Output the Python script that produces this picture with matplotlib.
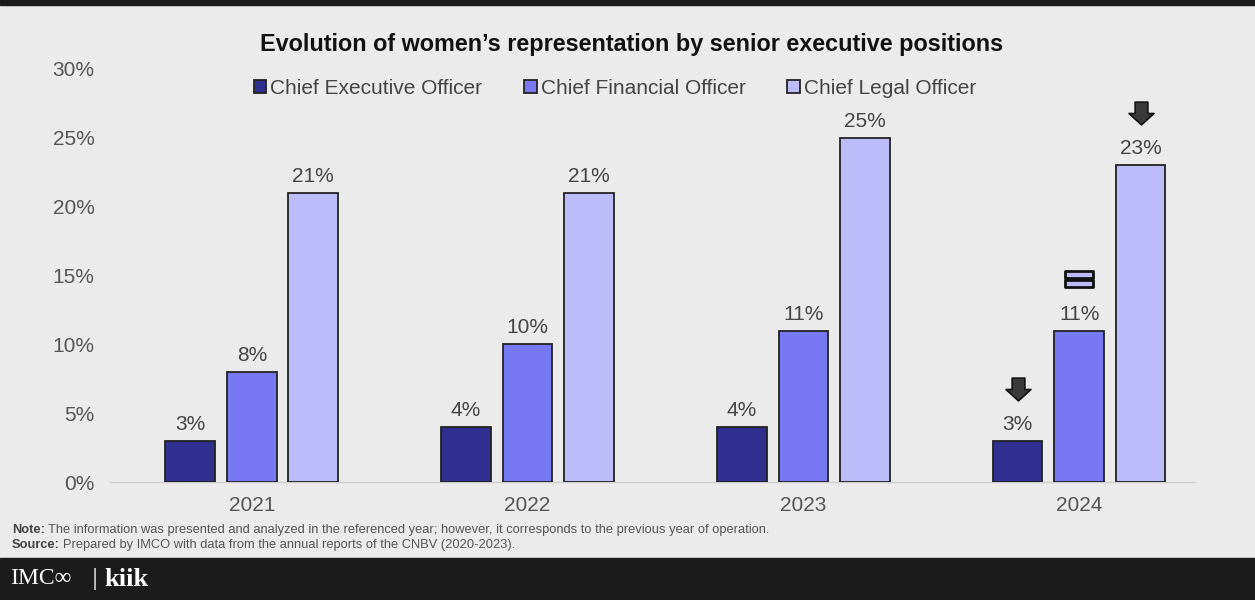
import numpy as np
import matplotlib
matplotlib.use("Agg")
import matplotlib.pyplot as plt
from matplotlib.path import Path
from matplotlib.patches import Rectangle
from matplotlib.transforms import offset_copy

plt.rcParams['font.family'] = ['Liberation Sans', 'DejaVu Sans']

# Datos
years = ['2021', '2022', '2023', '2024']
series = ['Chief Executive Officer', 'Chief Financial Officer', 'Chief Legal Officer']
ceo = [3, 4, 4, 3]
cfo = [8, 10, 11, 11]
clo = [21, 21, 25, 23]
values = [ceo, cfo, clo]
colors = ['#2f2f8f', '#7878f2', '#bcbcfa']
# cambio en 2024 respecto a 2023: 'down' o 'equal'
trend_2024 = ['down', 'equal', 'down']

fig = plt.figure(figsize=(12.55, 6), dpi=100)
fig.patch.set_facecolor('#ebebeb')

# bandas oscuras
fig.add_artist(Rectangle((0, 0), 1, 42 / 600, transform=fig.transFigure, color='#1b1b1b', zorder=0))
fig.add_artist(Rectangle((0, 1 - 5 / 600), 1, 5 / 600, transform=fig.transFigure, color='#1b1b1b', zorder=0))

ax = fig.add_axes([110 / 1255, (600 - 482) / 600, 1085 / 1255, (482 - 69) / 600])
ax.set_facecolor('none')

x = np.arange(len(years))
width = 0.18
offsets = [-0.223, 0, 0.223]
bar_sets = []
for i, (name, vals) in enumerate(zip(series, values)):
    bars = ax.bar(x + offsets[i], vals, width, color=colors[i], edgecolor='#222222',
                  linewidth=1.3, label=name, zorder=3)
    bar_sets.append(bars)
    for xi, v in zip(x + offsets[i], vals):
        ax.annotate(f'{v}%', (xi, v), xytext=(0, 5), textcoords='offset points',
                    ha='center', va='bottom', fontsize=15, color='#444444')

# flechas / igual sobre 2024
down = Path([(-0.28, 0.5), (0.28, 0.5), (0.28, 0.0), (0.55, 0.0), (0.0, -0.5),
             (-0.55, 0.0), (-0.28, 0.0), (-0.28, 0.5)],
            [Path.MOVETO] + [Path.LINETO] * 6 + [Path.CLOSEPOLY])
equal = Path([(-0.5, 0.3), (0.5, 0.3), (0.5, 0.04), (-0.5, 0.04), (-0.5, 0.3),
              (-0.5, -0.04), (0.5, -0.04), (0.5, -0.3), (-0.5, -0.3), (-0.5, -0.04)],
             [Path.MOVETO, Path.LINETO, Path.LINETO, Path.LINETO, Path.CLOSEPOLY,
              Path.MOVETO, Path.LINETO, Path.LINETO, Path.LINETO, Path.CLOSEPOLY])
for i, t in enumerate(trend_2024):
    v = values[i][-1]
    tr = offset_copy(ax.transData, fig=fig, y=52, units='dots')
    if t == 'down':
        ax.plot(x[-1] + offsets[i], v, marker=down, markersize=18, color='#3a3a3a',
                markeredgecolor='#111111', markeredgewidth=1.2, transform=tr, clip_on=False)
    else:
        ax.plot(x[-1] + offsets[i], v, marker=equal, markersize=20, color=colors[2],
                markeredgecolor='#111111', markeredgewidth=2, transform=tr, clip_on=False)

ax.set_ylim(0, 30)
ax.set_xlim(-0.514, 3.42)
ax.set_yticks(np.arange(0, 31, 5))
ax.set_yticklabels([f'{t}%' for t in range(0, 31, 5)])
ax.set_xticks(x)
ax.set_xticklabels(years)
ax.tick_params(axis='both', length=0, labelsize=15, labelcolor='#555555')
ax.tick_params(axis='y', pad=11)
ax.tick_params(axis='x', pad=10)
for s in ['top', 'right', 'left']:
    ax.spines[s].set_visible(False)
ax.spines['bottom'].set_color('#cfcfcf')
ax.spines['bottom'].set_linewidth(1)

fig.text(632 / 1255, 1 - 45 / 600, 'Evolution of women\u2019s representation by senior executive positions',
         ha='center', va='center', fontsize=16.8, fontweight='bold', color='#111111')

leg = fig.legend(handles=bar_sets, labels=series, loc='center', bbox_to_anchor=(615 / 1255, 1 - 88 / 600),
                 ncol=3, frameon=False, fontsize=15, handlelength=0.6, handleheight=0.6,
                 handletextpad=0.2, columnspacing=2.0, labelcolor='#444444')

narrow = ['Liberation Sans Narrow', 'Liberation Sans', 'DejaVu Sans']
for y, lab, txt in [(530, 'Note:', 'The information was presented and analyzed in the referenced year; however, it corresponds to the previous year of operation.'),
                    (545, 'Source:', 'Prepared by IMCO with data from the annual reports of the CNBV (2020-2023).')]:
    t0 = fig.text(12 / 1255, 1 - y / 600, lab, fontsize=9.3, fontweight='bold', color='#444444',
                  va='center', family=narrow)
    ax.annotate(txt, xy=(1, 0.5), xycoords=t0, xytext=(2, 0), textcoords='offset points',
                fontsize=9.3, color='#555555', va='center', ha='left', family=narrow,
                annotation_clip=False)

fig.text(10 / 1255, 1 - 579 / 600, 'IMC\u221e', fontsize=17, color='white', va='center',
         family=['Liberation Serif', 'DejaVu Serif'])
fig.text(92 / 1255, 1 - 579 / 600, '|', fontsize=17, color='#bbbbbb', va='center')
fig.text(104 / 1255, 1 - 579 / 600, 'kiik', fontsize=19, fontweight='bold', color='white',
         va='center', family=['Liberation Serif', 'DejaVu Serif'])

fig.savefig('out.png', dpi=100, facecolor=fig.get_facecolor())
